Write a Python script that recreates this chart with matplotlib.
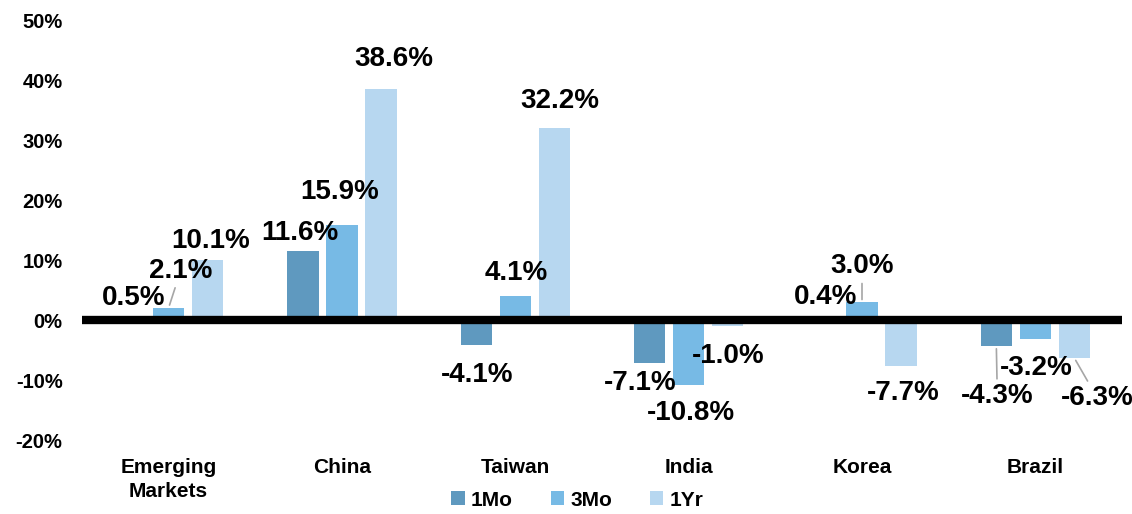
import numpy as np
import matplotlib
matplotlib.use("Agg")
import matplotlib.pyplot as plt
from matplotlib.patches import Patch

plt.rcParams["font.family"] = ["Liberation Sans", "DejaVu Sans"]
plt.rcParams["font.weight"] = "bold"

categories = ["Emerging\nMarkets", "China", "Taiwan", "India", "Korea", "Brazil"]
series_names = ["1Mo", "3Mo", "1Yr"]
one_month = [0.5, 11.6, -4.1, -7.1, 0.4, -4.3]
three_month = [2.1, 15.9, 4.1, -10.8, 3.0, -3.2]
one_year = [10.1, 38.6, 32.2, -1.0, -7.7, -6.3]
y_ticks = [-20, -10, 0, 10, 20, 30, 40, 50]

colors = ["#5f99bf", "#77bae5", "#b7d7f0"]

# label offsets in pixels from the bar end (layout only)
label_offsets = {
    (0, 0): (4, 19), (0, 1): (12, 37), (0, 2): (3, 19),
    (1, 0): (-3, 18), (1, 1): (-2, 33), (1, 2): (13, 30),
    (2, 0): (1, -30), (2, 1): (1, 23), (2, 2): (6, 27),
    (3, 0): (-9, -20), (3, 1): (2, -28), (3, 2): (1, -30),
    (4, 0): (3, 21), (4, 1): (0, 36), (4, 2): (2, -27),
    (5, 0): (1, -50), (5, 1): (1, -29), (5, 2): (23, -40),
}
leaders = {(0, 1), (4, 1), (5, 0), (5, 2)}

fig = plt.figure(figsize=(11.32, 5.14), dpi=100)
ax = fig.add_axes([82 / 1132, 1 - 440 / 514, 1040 / 1132, 419 / 514])

x = np.arange(len(categories))
pitch = 0.225
width = 0.18
all_series = [one_month, three_month, one_year]
for s, vals in enumerate(all_series):
    xs = x + (s - 1) * pitch
    ax.bar(xs, vals, width=width, color=colors[s], zorder=2)
    for i, v in enumerate(vals):
        dx, dy = label_offsets[(i, s)]
        arrow = None
        if (i, s) in leaders:
            arrow = dict(arrowstyle="-", color="#a6a6a6", lw=1.2,
                         shrinkA=1, shrinkB=2)
        ax.annotate(f"{v:.1f}%", xy=(xs[i], v), xytext=(dx, dy),
                    textcoords="offset pixels", ha="center", va="center",
                    fontsize=20, fontweight="bold", color="black",
                    arrowprops=arrow, zorder=4)

ax.axhline(0, color="black", lw=6, zorder=3)
ax.set_xlim(-0.5, len(categories) - 0.5)
ax.set_ylim(-20, 50)
ax.set_yticks(y_ticks)
ax.set_yticklabels([f"{t}%" for t in y_ticks], fontsize=14.5, fontweight="bold")
ax.set_xticks(x)
ax.set_xticklabels(categories, fontsize=15, fontweight="bold", linespacing=1.3)
ax.tick_params(axis="both", length=0)
ax.tick_params(axis="y", pad=14)
ax.tick_params(axis="x", pad=13)
for sp in ax.spines.values():
    sp.set_visible(False)

handles = [Patch(facecolor=c, edgecolor="none") for c in colors]
fig.legend(handles, series_names, loc="center", bbox_to_anchor=(0.51, 1 - 500 / 514),
           ncol=3, frameon=False, handlelength=0.65, handleheight=0.65,
           handletextpad=0.3, columnspacing=1.8,
           prop={"size": 15, "weight": "bold"})

fig.savefig("out.png", dpi=100)
